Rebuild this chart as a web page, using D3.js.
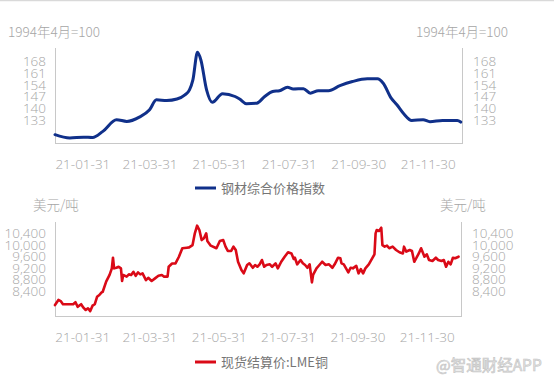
<!DOCTYPE html>
<html><head><meta charset="utf-8">
<script src="https://cdn.jsdelivr.net/npm/d3@7"></script>
<style>
html,body{margin:0;padding:0;background:#fff;}
svg{display:block;font-family:"Noto Sans CJK SC","Noto Sans",sans-serif;}
</style></head><body>
<svg id="c" width="554" height="385"></svg>
<script>
// ---- data ----
const steelDates = ["2021-01-07","2021-01-20","2021-02-01","2021-02-09","2021-02-18","2021-03-02","2021-03-11","2021-03-22","2021-03-31","2021-04-06","2021-04-15","2021-04-24","2021-05-01","2021-05-05","2021-05-08","2021-05-12","2021-05-15","2021-05-20","2021-05-25","2021-06-03","2021-06-14","2021-06-18","2021-06-24","2021-07-03","2021-07-10","2021-07-17","2021-07-23","2021-07-30","2021-08-04","2021-08-13","2021-08-19","2021-08-26","2021-09-04","2021-09-14","2021-09-25","2021-10-08","2021-10-17","2021-10-22","2021-10-29","2021-11-03","2021-11-09","2021-11-16","2021-11-26","2021-12-02","2021-12-13","2021-12-26","2021-12-29"];
const steelValues = [124,122,122.5,122.3,126,133,132,134.6,139,145,144.6,145.5,148,151,157,173.6,169,151,143.5,148.7,147,145.5,142.7,143,147,150,150.5,152.5,151.5,151.7,149,150.5,150.5,153.5,156,157.7,157.7,155,146,142,136.6,132.6,133,131.8,132.6,132.6,131.6];

const copperDates = ["2021-01-07","2021-01-10","2021-01-12","2021-01-14","2021-01-19","2021-01-23","2021-01-25","2021-01-27","2021-01-30","2021-02-01","2021-02-03","2021-02-05","2021-02-07","2021-02-09","2021-02-11","2021-02-13","2021-02-15","2021-02-17","2021-02-18","2021-02-21","2021-02-24","2021-02-26","2021-02-27","2021-02-28","2021-03-02","2021-03-04","2021-03-06","2021-03-07","2021-03-08","2021-03-11","2021-03-13","2021-03-15","2021-03-17","2021-03-19","2021-03-21","2021-03-23","2021-03-25","2021-03-28","2021-03-30","2021-04-02","2021-04-05","2021-04-08","2021-04-11","2021-04-13","2021-04-16","2021-04-17","2021-04-20","2021-04-23","2021-04-26","2021-04-29","2021-05-03","2021-05-05","2021-05-08","2021-05-10","2021-05-12","2021-05-14","2021-05-16","2021-05-18","2021-05-20","2021-05-21","2021-05-24","2021-05-29","2021-06-01","2021-06-04","2021-06-06","2021-06-08","2021-06-11","2021-06-13","2021-06-15","2021-06-17","2021-06-20","2021-06-22","2021-06-25","2021-06-27","2021-06-30","2021-07-02","2021-07-04","2021-07-06","2021-07-08","2021-07-10","2021-07-12","2021-07-15","2021-07-17","2021-07-20","2021-07-22","2021-07-25","2021-07-28","2021-07-31","2021-08-03","2021-08-05","2021-08-06","2021-08-08","2021-08-11","2021-08-13","2021-08-15","2021-08-17","2021-08-19","2021-08-21","2021-08-22","2021-08-25","2021-08-27","2021-08-30","2021-09-02","2021-09-05","2021-09-08","2021-09-10","2021-09-13","2021-09-15","2021-09-16","2021-09-18","2021-09-20","2021-09-22","2021-09-24","2021-09-26","2021-09-29","2021-10-01","2021-10-03","2021-10-05","2021-10-07","2021-10-10","2021-10-13","2021-10-15","2021-10-16","2021-10-17","2021-10-19","2021-10-21","2021-10-22","2021-10-24","2021-10-26","2021-10-28","2021-10-31","2021-11-03","2021-11-06","2021-11-09","2021-11-10","2021-11-12","2021-11-15","2021-11-17","2021-11-19","2021-11-21","2021-11-23","2021-11-25","2021-11-28","2021-11-30","2021-12-02","2021-12-05","2021-12-08","2021-12-10","2021-12-13","2021-12-15","2021-12-17","2021-12-19","2021-12-21","2021-12-23","2021-12-25","2021-12-28"];
const copperValues = [7900,8080,8040,7930,7930,7930,8000,7840,7930,7810,7730,7790,7690,7880,7930,8190,8250,8345,8365,8715,8950,9180,9550,9180,9200,9235,9180,8740,8950,8890,8970,8950,9060,8920,9040,8970,9005,8770,8850,8740,8830,8920,8950,8890,8890,9235,9350,9350,9585,9880,9900,9910,9990,10400,10665,10515,10165,10225,10400,10130,9970,9880,10130,10165,9935,9785,9785,9935,9820,9410,9120,9005,9295,9355,9200,9295,9235,9320,9470,9235,9295,9320,9235,9355,9180,9410,9585,9740,9700,9505,9550,9320,9470,9355,9295,9200,9320,8690,8950,9180,9270,9410,9295,9320,9200,9320,9550,9530,9355,9320,9180,9040,9200,9180,9270,9005,9155,9005,9180,9320,9530,9670,10400,10515,10480,10595,9990,9935,9970,9880,9935,9820,9740,9700,9935,9760,9820,9785,9410,9550,9700,9880,9585,9670,9470,9435,9550,9470,9435,9470,9235,9410,9320,9550,9530,9585];

const xTickDates = ["2021-01-31","2021-03-31","2021-05-31","2021-07-31","2021-09-30","2021-11-30"];
const steelTicks = [133,140,147,154,161,168];
const copperTicks = [8400,8800,9200,9600,10000,10400];
const steelName = "钢材综合价格指数";
const copperName = "现货结算价:LME铜";
const steelUnit = "1994年4月=100";
const copperUnit = "美元/吨";

// ---- drawing ----
const svg = d3.select("#c");
const parse = d3.timeParse("%Y-%m-%d");
const fmt = d3.timeFormat("%y-%m-%d");
const tickColor = "#a6a6a6";
const axisColor = "#c8c8c8";

svg.append("line").attr("x1",0).attr("x2",554).attr("y1",0.5).attr("y2",0.5)
  .attr("stroke","#d9d9d9").attr("stroke-width",1.5);

function panel(opt){
  const x = d3.scaleTime().domain([parse("2021-01-07"), parse("2021-12-31")]).range([opt.left, opt.right]);
  const y = d3.scaleLinear().domain(opt.domain).range([opt.bottom, opt.top]);
  const g = svg.append("g");
  // axis frame lines
  g.append("line").attr("x1",opt.left+0.5).attr("x2",opt.left+0.5).attr("y1",opt.top).attr("y2",opt.bottom).attr("stroke",axisColor);
  g.append("line").attr("x1",opt.right-0.5).attr("x2",opt.right-0.5).attr("y1",opt.top).attr("y2",opt.bottom).attr("stroke",axisColor);
  g.append("line").attr("x1",opt.left).attr("x2",opt.right).attr("y1",opt.bottom+0.5).attr("y2",opt.bottom+0.5).attr("stroke",axisColor);

  const yl = d3.axisLeft(y).tickValues(opt.ticks).tickSize(0).tickPadding(9).tickFormat(opt.tfmt);
  const yr = d3.axisRight(y).tickValues(opt.ticks).tickSize(0).tickPadding(10).tickFormat(opt.tfmt);
  const xa = d3.axisBottom(x).tickValues(xTickDates.map(parse)).tickSize(0).tickPadding(opt.xpad).tickFormat(fmt);
  [ [yl, `translate(${opt.left},0)`], [yr, `translate(${opt.right},0)`], [xa, `translate(0,${opt.bottom})`] ].forEach(([a,t])=>{
    const ag = g.append("g").attr("transform",t).call(a);
    ag.select(".domain").remove();
    ag.selectAll("text").attr("fill",tickColor).style("font-size","13.5px").style("font-family","'Open Sans','Noto Sans',sans-serif").style("font-weight","300");
  });

  const line = d3.line().x(d=>x(d[0])).y(d=>y(d[1])).curve(opt.curve);
  const data = opt.dates.map((d,i)=>[parse(d), opt.values[i]]);
  g.append("path").datum(data).attr("d",line).attr("fill","none")
    .attr("stroke",opt.color).attr("stroke-width",opt.sw).attr("stroke-linejoin","round").attr("stroke-linecap","round");

  // unit labels
  g.append("text").attr("x",opt.unitLX).attr("y",opt.unitY).text(opt.unit).attr("fill",tickColor).style("font-size","13.5px").style("font-weight","300");
  g.append("text").attr("x",opt.unitRX).attr("y",opt.unitY).text(opt.unit).attr("fill",tickColor).style("font-size","13.5px").style("font-weight","300");

  // legend
  g.append("line").attr("x1",opt.legX).attr("x2",opt.legX+21).attr("y1",opt.legY).attr("y2",opt.legY).attr("stroke",opt.color).attr("stroke-width",3);
  g.append("text").attr("x",opt.legX+26).attr("y",opt.legY+4.5).text(opt.name).attr("fill","#757575").style("font-size","13px");
}

panel({left:55,right:463,top:48,bottom:143,domain:[119,176.2],ticks:steelTicks,tfmt:d3.format("d"),
  dates:steelDates,values:steelValues,color:"#10308a",sw:3,curve:d3.curveMonotoneX,xpad:16,
  unit:steelUnit,unitLX:8,unitRX:416,unitY:37,legX:195,legY:188,name:steelName});

panel({left:55,right:462,top:222,bottom:316,domain:[7520,10794],ticks:copperTicks,tfmt:d3.format(","),
  dates:copperDates,values:copperValues,color:"#da0a17",sw:2.6,curve:d3.curveLinear,xpad:16,
  unit:copperUnit,unitLX:33,unitRX:440,unitY:210,legX:195,legY:362,name:copperName});

// watermark
svg.append("text").attr("x",436).attr("y",371).text("@智通财经APP")
  .attr("fill","#e6e6e6").attr("stroke","#c4c4c4").attr("stroke-width",0.6)
  .style("font-size","15.5px");
</script>
</body></html>
